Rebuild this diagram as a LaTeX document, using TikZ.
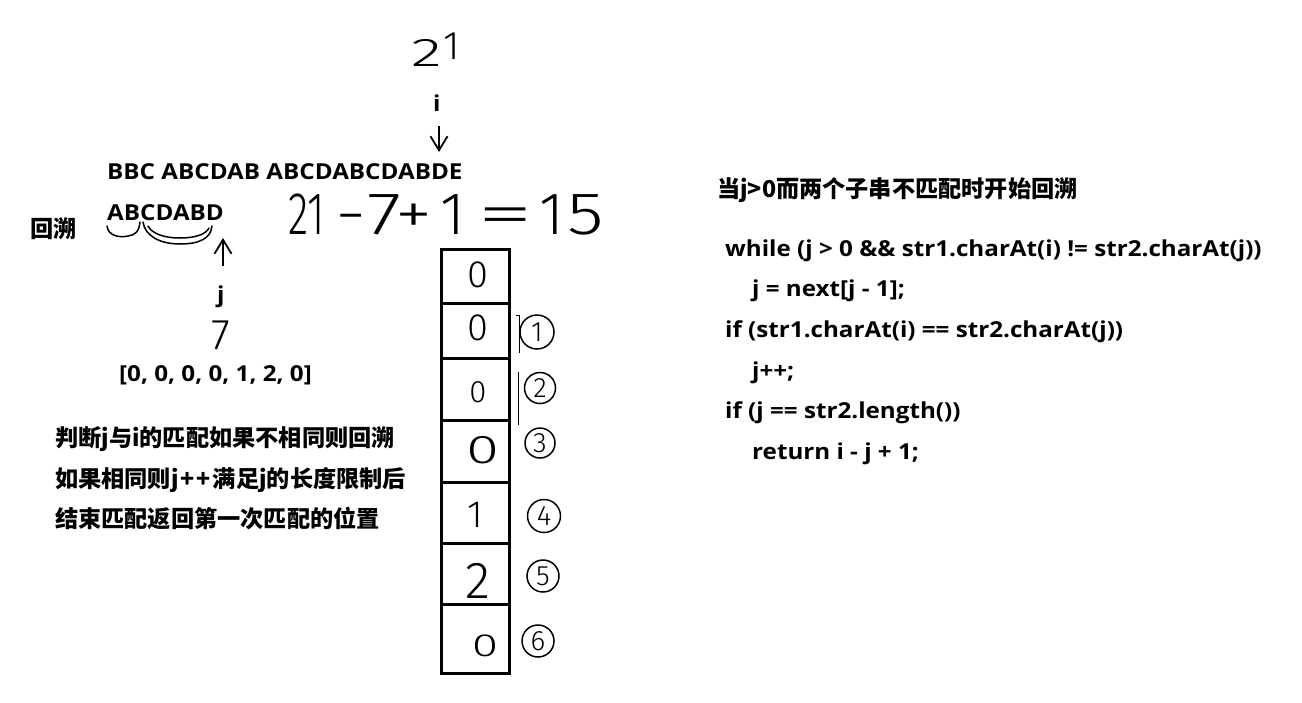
\documentclass[tikz,border=0pt]{standalone}
\usepackage{fontspec}
\usepackage{graphicx}
\setmainfont{Open Sans}[FakeStretch=1.1]
\newfontfamily\cjk{Noto Sans CJK SC}
\newfontfamily\hand{Fira Sans Light}
\usetikzlibrary{arrows.meta}
\begin{document}
\begin{tikzpicture}[x=1pt,y=-1pt,
  lbl/.style={font=\bfseries\fontsize{22}{26}\selectfont, inner sep=0pt, anchor=base west},
  zh/.style={font=\cjk\bfseries\fontsize{23.2}{26}\selectfont, inner sep=0pt, anchor=base west},
  hw/.style={font=\hand\fontsize{#1}{#1}\selectfont, inner sep=0pt},
  cellbox/.style={draw, line width=3pt, minimum width=68pt, minimum height=#1, anchor=north, inner sep=0pt},
  circ/.style={draw, circle, line width=1.5pt, minimum size=#1, inner sep=0pt, font=\hand\fontsize{28}{28}\selectfont},
  harrow/.style={line width=1.8pt, -{Straight Barb[length=14pt,width=17pt,line width=1.8pt]}},
  stroke/.style={line width=1.5pt, line cap=round, line join=round}
]
\useasboundingbox[fill=white] (0,0) rectangle (1302,702);

% top handwritten index
\node[hw=40, anchor=west] (twentyone) at (411,50) {\scalebox{1.6}[1]{2}\kern2pt\raisebox{7pt}{1}};
\node[lbl] (ilbl) at (433,111) {i};
\coordinate (iA) at (439,126);
\coordinate (iB) at (439,152);
\draw[harrow] (iA) -- (iB);

% strings
\node[lbl] (main) at (107,179) {BBC ABCDAB ABCDABCDABDE};
\node[lbl] (pat) at (107,220) {ABCDABD};
\node[zh] (huisu) at (30,237) {回溯};

% braces under pattern
\draw[stroke] (107,226) .. controls (108,236) and (120,238) .. (128,236) .. controls (135,235) and (139,232) .. (140,222);
\draw[stroke] (143,222) .. controls (145,236) and (160,244) .. (180,244) .. controls (200,244) and (211,238) .. (212,226);
\draw[stroke] (148,226) .. controls (152,234) and (165,238) .. (180,238) .. controls (196,238) and (206,234) .. (209,228);

% j pointer
\coordinate (jA) at (223,266);
\coordinate (jB) at (223,238);
\draw[harrow] (jA) -- (jB);
\node[lbl] (jlbl) at (217,302) {j};
\node[hw=43] (seven) at (221,335) {7};
\node[lbl] (nextarr) at (119,381) {[0, 0, 0, 0, 1, 2, 0]};

% handwritten computation
\node[hw=60, anchor=west] (calc) at (288,215)
  {\scalebox{0.7}[1]{21}\kern11pt\scalebox{1.3}[1]{-}\kern1pt\scalebox{1.3}[1]{7}\kern-6pt\scalebox{1.25}[1]{+}\kern8pt 1\kern12pt\scalebox{1.9}[1]{=}\kern6pt 1\kern3pt\scalebox{1.25}[1]{5}};

% next table
\node[cellbox=54pt] (c1) at (475.5,248) {};
\node[cellbox=55pt] (c2) at (475.5,302) {};
\node[cellbox=62pt] (c3) at (475.5,357) {};
\node[cellbox=62pt] (c4) at (475.5,419) {};
\node[cellbox=61pt] (c5) at (475.5,481) {};
\node[cellbox=61pt] (c6) at (475.5,542) {};
\node[cellbox=69pt] (c7) at (475.5,603) {};
\node[hw=38] (d1) at (478,275) {0};
\node[hw=38] (d2) at (478,328) {0};
\node[hw=31] (d3) at (478,392) {0};
\node[hw=40] (d4) at (483,450) {\scalebox{1.5}[1]{0}};
\node[hw=38] (d5) at (475,515) {1};
\node[hw=52] (d6) at (478,581) {2};
\node[hw=32] (d7) at (485,646) {\scalebox{1.5}[1]{0}};

% circled indices
\node[circ=34pt] (k1) at (537,332) {1};
\node[circ=31pt] (k2) at (540,388) {2};
\node[circ=30pt] (k3) at (540,443) {3};
\node[circ=33pt] (k4) at (544,516) {4};
\node[circ=32pt] (k5) at (543,576) {5};
\node[circ=32pt] (k6) at (538,641) {6};
\draw[line width=0.8pt] (516,315) -- (519,315) -- (519,353);
\draw[line width=0.8pt] (518,372) -- (518,425);

% explanations
\node[zh] (ex1) at (55,446) {判断j与i的匹配如果不相同则回溯};
\node[zh] (ex2) at (55,487) {如果相同则j\kern2pt+\kern2pt+\kern2pt满足j的长度限制后};
\node[zh] (ex3) at (55,527) {结束匹配返回第一次匹配的位置};

\node[zh] (title) at (717,197) {当j>0而两个子串不匹配时开始回溯};
\node[lbl] (code1) at (725,256) {while (j > 0 \&\& str1.charAt(i) != str2.charAt(j))};
\node[lbl] (code2) at (752,296) {j = next[j - 1];};
\node[lbl] (code3) at (725,337) {if (str1.charAt(i) == str2.charAt(j))};
\node[lbl] (code4) at (752,378) {j++;};
\node[lbl] (code5) at (725,418) {if (j == str2.length())};
\node[lbl] (code6) at (752,459) {return i - j + 1;};
\end{tikzpicture}
\end{document}
